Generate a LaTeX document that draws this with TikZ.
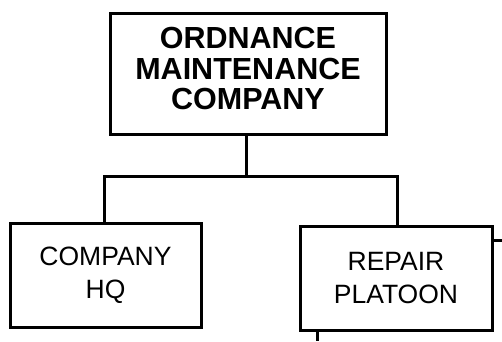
\documentclass[tikz,border=0pt]{standalone}
\usepackage{fontspec}
\setmainfont{Liberation Sans}
\begin{document}
\begin{tikzpicture}[x=1pt,y=-1pt,
  box/.style={draw=black,line width=3pt,rectangle,inner sep=0pt,align=center},
  conn/.style={draw=black,line width=3pt}]
\useasboundingbox (0,0) rectangle (502,341);
\node[box,minimum width=276pt,minimum height=121pt] (omc) at (248,73.5) {};
\node[inner sep=0pt,align=center,font=\fontsize{30.5}{30.5}\selectfont\bfseries]
  (omctext) at ([yshift=5pt]omc.center) {ORDNANCE\\MAINTENANCE\\COMPANY};
\node[box,minimum width=191pt,minimum height=104pt,
  font=\fontsize{26.5}{33}\selectfont] (hq) at (105.5,275) {COMPANY\\HQ};
\node[box,minimum width=192pt,minimum height=104pt,
  font=\fontsize{26.5}{33}\selectfont] (rp) at (396,278) {REPAIR\\PLATOON};
\coordinate (j) at (246,176);
\coordinate (lj) at (104,176);
\coordinate (rj) at (397,176);
\coordinate (re) at (502,240);
\coordinate (be) at (317,341);
\draw[conn] (omc.south -| j) -- (j);
\draw[conn,line cap=rect] (hq.north -| lj) -- (lj) -- (rj) -- (rp.north -| rj);
\draw[conn] (rp.east |- re) -- (re);
\draw[conn] (rp.south -| be) -- (be);
\end{tikzpicture}
\end{document}
